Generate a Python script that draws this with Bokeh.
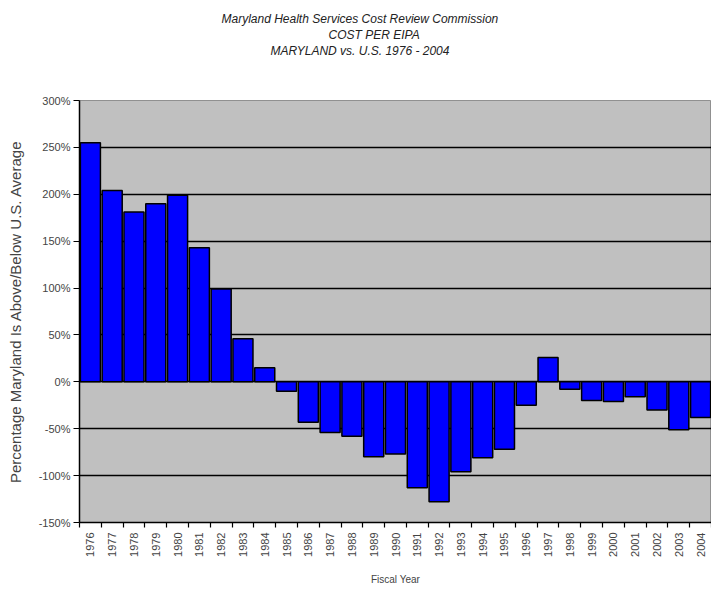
import math
from bokeh.plotting import figure
from bokeh.models import FixedTicker, PrintfTickFormatter, Title, Range1d, ColumnDataSource
from bokeh.embed import file_html
from bokeh.resources import INLINE

# ---- data ----
years = [str(y) for y in range(1976, 2005)]
values = [255, 204, 181, 190, 199, 143, 99, 46, 15, -10, -43, -54, -58, -80,
          -77, -113, -128, -96, -81, -72, -25, 26, -8, -20, -21, -16, -30, -51, -38]
y_ticks = [-150, -100, -50, 0, 50, 100, 150, 200, 250, 300]
title_lines = ["Maryland Health Services Cost Review Commission",
               "COST PER EIPA",
               "MARYLAND vs. U.S. 1976 - 2004"]
x_label = "Fiscal Year"
y_label = "Percentage Maryland Is Above/Below U.S. Average"

centers = [i + 0.5 for i in range(len(years))]
bounds = [i for i in range(len(years) + 1)]

src = ColumnDataSource(dict(x=centers, top=values, year=years))

p = figure(width=711, height=590, x_range=Range1d(0, len(years)), y_range=Range1d(-150, 300),
           output_backend="svg", toolbar_location=None,
           min_border_left=79, min_border_right=0, min_border_top=100, min_border_bottom=68,
           background_fill_color="#C0C0C0", border_fill_color="white")

p.vbar(x="x", top="top", bottom=0, width=0.92, source=src,
       fill_color="#0000FF", line_color="black", line_width=1.5)

# titles: spacer closest to the frame, then lines from last to first
p.add_layout(Title(text=" ", text_font_size="36px", standoff=0), "above")
title_offsets = [142, 249, 191]   # left offsets so lines centre near x=360
for line, off in reversed(list(zip(title_lines, title_offsets))):
    p.add_layout(Title(text=line, align="left", offset=off, text_font_size="12px",
                       text_font="Liberation Sans", text_font_style="italic",
                       text_color="#222222", standoff=0), "above")

p.outline_line_color = "#909090"
p.xgrid.visible = False
p.ygrid.ticker = FixedTicker(ticks=y_ticks)
p.ygrid.grid_line_color = "black"
p.ygrid.grid_line_width = 1.5

yax = p.yaxis[0]
yax.ticker = FixedTicker(ticks=y_ticks)
yax.formatter = PrintfTickFormatter(format="%d%%")
yax.axis_label = y_label
yax.axis_label_text_font = "Liberation Sans"
yax.axis_label_text_font_size = "15px"
yax.axis_label_text_font_style = "normal"
yax.axis_label_standoff = 12
yax.major_label_text_font = "Liberation Sans"
yax.major_label_text_font_size = "11px"
yax.major_label_standoff = 3
yax.major_tick_out = 6
yax.major_tick_in = 0
yax.minor_tick_line_color = None
yax.axis_line_color = "black"
yax.axis_line_width = 1.5

xax = p.xaxis[0]
xax.ticker = FixedTicker(ticks=centers, minor_ticks=bounds)
xax.major_label_overrides = {c: y for c, y in zip(centers, years)}
xax.major_label_orientation = math.pi / 2
xax.major_label_text_font = "Liberation Sans"
xax.major_label_text_font_size = "11px"
xax.major_label_standoff = 5
xax.major_tick_in = 0
xax.major_tick_out = 0
xax.minor_tick_in = 0
xax.minor_tick_out = 5
xax.minor_tick_line_color = "black"
xax.minor_tick_line_width = 1.2
xax.axis_line_color = "black"
xax.axis_line_width = 1.5
xax.axis_label = x_label
xax.axis_label_text_font = "Liberation Sans"
xax.axis_label_text_font_size = "10px"
xax.axis_label_text_font_style = "normal"
xax.axis_label_standoff = 14

open("out.html", "w").write(file_html(p, INLINE))
